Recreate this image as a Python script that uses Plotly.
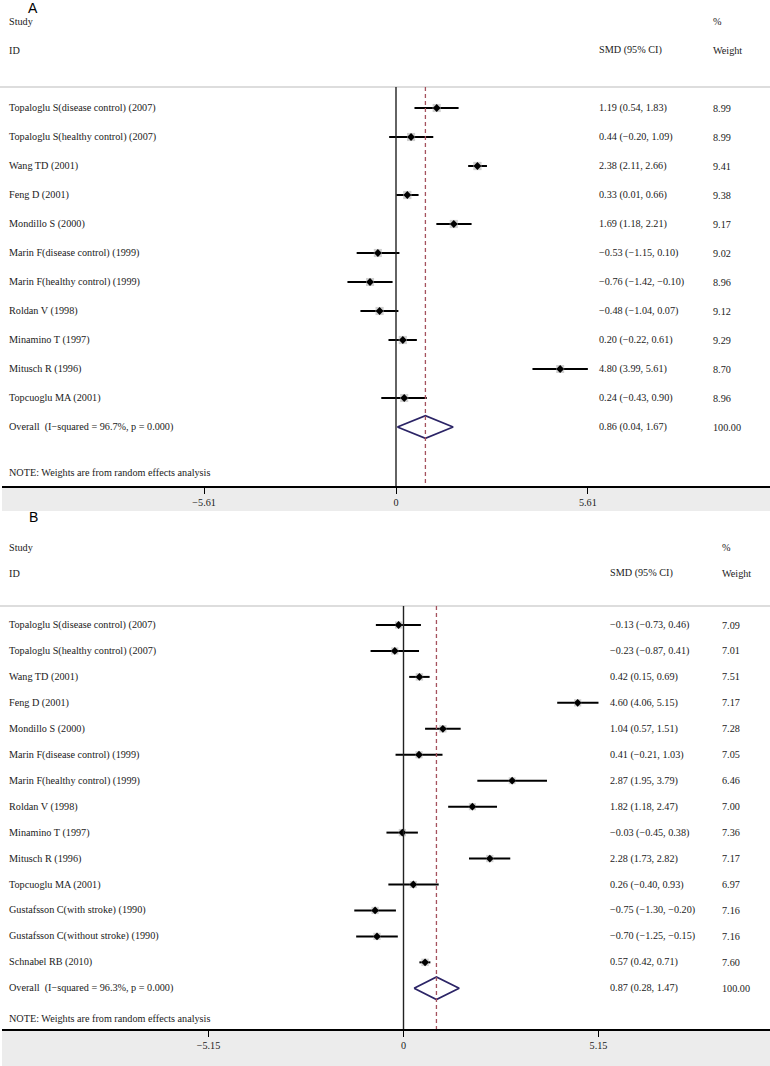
import plotly.graph_objects as go

W, H = 770, 1066

# ---------------- Panel A data ----------------
studies_a = [
    "Topaloglu S(disease control) (2007)",
    "Topaloglu S(healthy control) (2007)",
    "Wang TD (2001)",
    "Feng D (2001)",
    "Mondillo S (2000)",
    "Marin F(disease control) (1999)",
    "Marin F(healthy control) (1999)",
    "Roldan V (1998)",
    "Minamino T (1997)",
    "Mitusch R (1996)",
    "Topcuoglu MA (2001)",
]
smd_a = [1.19, 0.44, 2.38, 0.33, 1.69, -0.53, -0.76, -0.48, 0.20, 4.80, 0.24]
lo_a = [0.54, -0.20, 2.11, 0.01, 1.18, -1.15, -1.42, -1.04, -0.22, 3.99, -0.43]
hi_a = [1.83, 1.09, 2.66, 0.66, 2.21, 0.10, -0.10, 0.07, 0.61, 5.61, 0.90]
wt_a = [8.99, 8.99, 9.41, 9.38, 9.17, 9.02, 8.96, 9.12, 9.29, 8.70, 8.96]
overall_a = [0.86, 0.04, 1.67]
overall_label_a = "Overall  (I\u2212squared = 96.7%, p = 0.000)"
ticks_a = [-5.61, 0, 5.61]

# ---------------- Panel B data ----------------
studies_b = [
    "Topaloglu S(disease control) (2007)",
    "Topaloglu S(healthy control) (2007)",
    "Wang TD (2001)",
    "Feng D (2001)",
    "Mondillo S (2000)",
    "Marin F(disease control) (1999)",
    "Marin F(healthy control) (1999)",
    "Roldan V (1998)",
    "Minamino T (1997)",
    "Mitusch R (1996)",
    "Topcuoglu MA (2001)",
    "Gustafsson C(with stroke) (1990)",
    "Gustafsson C(without stroke) (1990)",
    "Schnabel RB (2010)",
]
smd_b = [-0.13, -0.23, 0.42, 4.60, 1.04, 0.41, 2.87, 1.82, -0.03, 2.28, 0.26, -0.75, -0.70, 0.57]
lo_b = [-0.73, -0.87, 0.15, 4.06, 0.57, -0.21, 1.95, 1.18, -0.45, 1.73, -0.40, -1.30, -1.25, 0.42]
hi_b = [0.46, 0.41, 0.69, 5.15, 1.51, 1.03, 3.79, 2.47, 0.38, 2.82, 0.93, -0.20, -0.15, 0.71]
wt_b = [7.09, 7.01, 7.51, 7.17, 7.28, 7.05, 6.46, 7.00, 7.36, 7.17, 6.97, 7.16, 7.16, 7.60]
overall_b = [0.87, 0.28, 1.47]
overall_label_b = "Overall  (I\u2212squared = 96.3%, p = 0.000)"
ticks_b = [-5.15, 0, 5.15]

note_text = "NOTE: Weights are from random effects analysis"

# ---------------- styling / geometry (pixels) ----------------
SERIF = "Liberation Serif, Times New Roman, serif"
SANS = "Liberation Sans, Arial, sans-serif"
TXT = "#1a1a1a"
FS = 10.2

panels = [
    dict(letter="A", studies=studies_a, smd=smd_a, lo=lo_a, hi=hi_a, wt=wt_a,
         overall=overall_a, olabel=overall_label_a, ticks=ticks_a,
         top=0, zero=396.0, ppu=34.2, row0=108.0, dy=29.0, axis=486.0,
         band_bottom=511.0, hline=87.0, letter_xy=(33, 8), smd_x=597, wt_x=711,
         note_y=472.0, xa="x", ya="y"),
    dict(letter="B", studies=studies_b, smd=smd_b, lo=lo_b, hi=hi_b, wt=wt_b,
         overall=overall_b, olabel=overall_label_b, ticks=ticks_b,
         top=511, zero=403.5, ppu=37.86, row0=625.0, dy=25.95, axis=1029.0,
         band_bottom=1066.0, hline=606.0, letter_xy=(33, 517), smd_x=608, wt_x=720,
         note_y=1018.0, xa="x2", ya="y2"),
]


def fmt(v):
    return f"{v:.2f}".replace("-", "\u2212")


fig = go.Figure()
annotations = []
shapes = []
layout_axes = {}

for p in panels:
    n = len(p["studies"])
    rows = list(range(n))
    xa, ya = p["xa"], p["ya"]

    # CI lines
    cx, cy = [], []
    for r, l, h in zip(rows, p["lo"], p["hi"]):
        cx += [l, h, None]
        cy += [r, r, None]
    fig.add_trace(go.Scatter(x=cx, y=cy, mode="lines", xaxis=xa, yaxis=ya,
                             line=dict(color="black", width=2), hoverinfo="skip",
                             showlegend=False))
    # weight boxes
    fig.add_trace(go.Scatter(x=p["smd"], y=rows, mode="markers", xaxis=xa, yaxis=ya,
                             marker=dict(symbol="square", color="#bdbdbd",
                                         size=[2.7 * w ** 0.5 for w in p["wt"]],
                                         line=dict(width=0)),
                             showlegend=False))
    # point estimates
    fig.add_trace(go.Scatter(x=p["smd"], y=rows, mode="markers", xaxis=xa, yaxis=ya,
                             marker=dict(symbol="diamond", color="black", size=6,
                                         line=dict(width=0)),
                             showlegend=False))
    # overall diamond
    est, olo, ohi = p["overall"]
    hh = 11.3 / p["dy"]
    fig.add_trace(go.Scatter(x=[olo, est, ohi, est, olo], y=[n, n - hh, n, n + hh, n],
                             mode="lines", xaxis=xa, yaxis=ya,
                             line=dict(color="#2b2466", width=1.8),
                             showlegend=False, hoverinfo="skip"))

    # axes
    i_top = (p["top"] - p["row0"]) / p["dy"]
    i_bot = (p["axis"] - p["row0"]) / p["dy"]
    xk = "xaxis" if xa == "x" else "xaxis2"
    yk = "yaxis" if ya == "y" else "yaxis2"
    layout_axes[xk] = dict(
        domain=[2 / W, 1], range=[(2 - p["zero"]) / p["ppu"], (W - p["zero"]) / p["ppu"]],
        anchor=ya, showgrid=False, zeroline=False, showline=True, linecolor="black",
        linewidth=1.5, ticks="outside", ticklen=6, tickwidth=1.4, tickcolor="black",
        tickvals=p["ticks"], ticktext=[("0" if t == 0 else fmt(t)) for t in p["ticks"]],
        tickfont=dict(family=SERIF, size=FS, color=TXT), fixedrange=True)
    layout_axes[yk] = dict(
        domain=[1 - p["axis"] / H, 1 - p["top"] / H], range=[i_bot, i_top],
        anchor=xa, visible=False, showgrid=False, zeroline=False, fixedrange=True)

    # grey band under axis
    shapes.append(dict(type="rect", xref="paper", yref="paper", x0=2 / W, x1=1,
                       y0=1 - p["band_bottom"] / H, y1=1 - p["axis"] / H,
                       fillcolor="#ececec", line=dict(width=0), layer="below"))
    # header separator line
    shapes.append(dict(type="line", xref="paper", yref="paper", x0=0, x1=1,
                       y0=1 - p["hline"] / H, y1=1 - p["hline"] / H,
                       line=dict(color="#d2d2d2", width=1.6)))
    # zero line
    shapes.append(dict(type="line", xref=xa, yref="paper", x0=0, x1=0,
                       y0=1 - p["hline"] / H, y1=1 - p["axis"] / H,
                       line=dict(color="#222222", width=1.4)))
    # overall dashed line
    shapes.append(dict(type="line", xref=xa, yref="paper", x0=est, x1=est,
                       y0=1 - p["hline"] / H, y1=1 - p["axis"] / H,
                       line=dict(color="#a5525e", width=1.3, dash="4px,3px")))

    def ann(text, xpx, yval, yref=ya, font=None):
        annotations.append(dict(text=text, xref="paper", x=xpx / W, xanchor="left",
                                yref=yref, y=yval, yanchor="middle", showarrow=False,
                                font=font or dict(family=SERIF, size=FS, color=TXT)))

    # headers
    ann("Study", 7, -3)
    ann("ID", 7, -2)
    ann("SMD (95% CI)", p["smd_x"], -2)
    ann("%", p["wt_x"], -3)
    ann("Weight", p["wt_x"], -2)
    # rows
    for r, s, v, l, h, w in zip(rows, p["studies"], p["smd"], p["lo"], p["hi"], p["wt"]):
        ann(s, 7, r)
        ann(f"{fmt(v)} ({fmt(l)}, {fmt(h)})", p["smd_x"], r)
        ann(f"{w:.2f}", p["wt_x"], r)
    ann(p["olabel"], 7, n)
    ann(f"{fmt(est)} ({fmt(olo)}, {fmt(ohi)})", p["smd_x"], n)
    ann("100.00", p["wt_x"], n)
    ann(note_text, 7, (p["note_y"] - p["row0"]) / p["dy"])
    # panel letter
    lx, ly = p["letter_xy"]
    annotations.append(dict(text=p["letter"], xref="paper", yref="paper", x=lx / W,
                            y=1 - ly / H, xanchor="center", yanchor="middle",
                            showarrow=False, font=dict(family=SANS, size=14, color="black")))

fig.update_layout(
    width=W, height=H, margin=dict(l=0, r=0, t=0, b=0),
    paper_bgcolor="white", plot_bgcolor="rgba(0,0,0,0)",
    showlegend=False, annotations=annotations, shapes=shapes, **layout_axes)

fig.write_html("out.html", config={"displayModeBar": False},
               post_script="document.body.style.margin='0';"
                           "document.body.style.overflow='hidden';")
